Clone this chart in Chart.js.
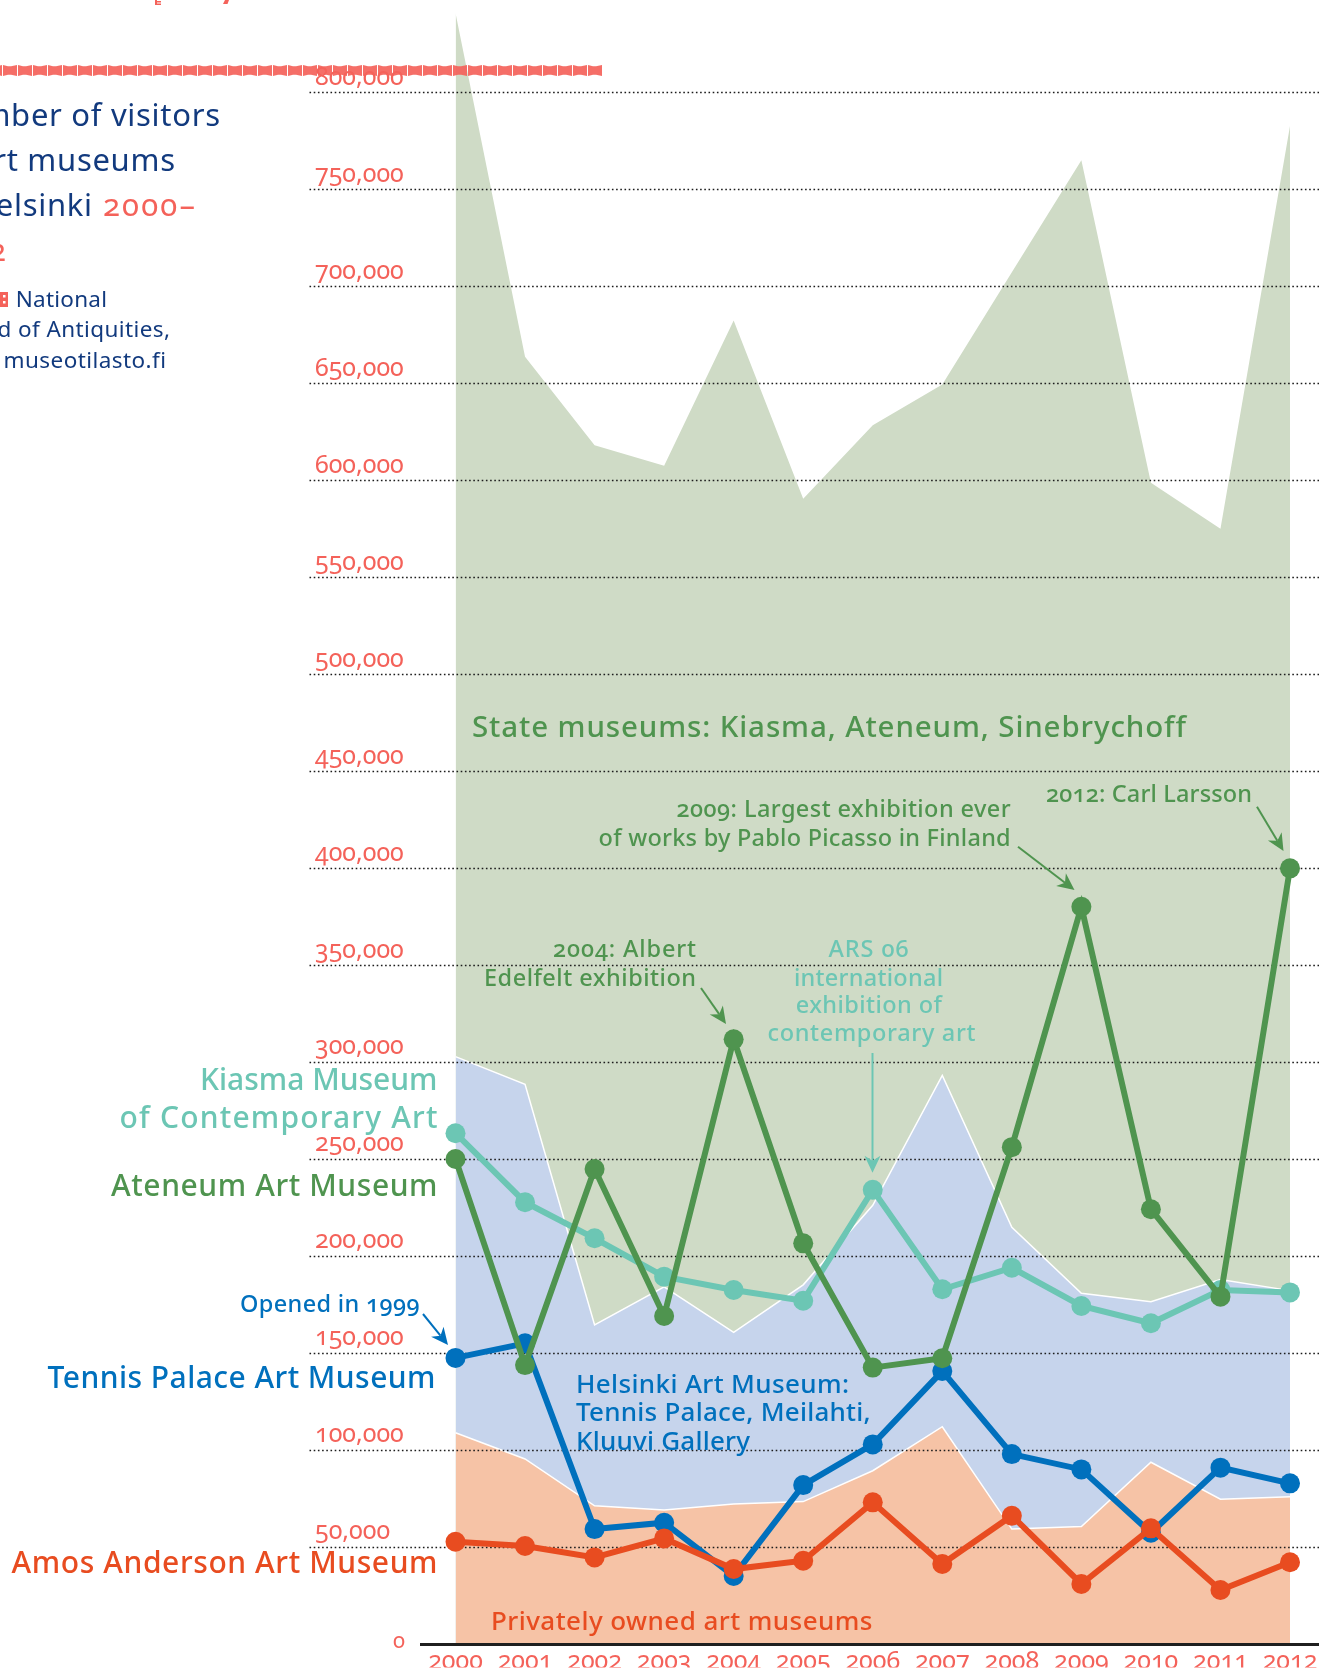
<!DOCTYPE html>
<html><head><meta charset="utf-8">
<style>
html,body{margin:0;padding:0;background:#fff;overflow:hidden;width:1319px;height:1674px}
#wrap{position:absolute;left:0;top:-6px;width:1319px;height:1680px}
canvas{display:block;font-feature-settings:"onum" 1;font-variant-numeric:oldstyle-nums}
</style>
<script src="https://cdn.jsdelivr.net/npm/chart.js@4"></script>
</head><body><div id="wrap"><canvas id="c" width="1319" height="1680"></canvas></div>
<script>
const years=['2000','2001','2002','2003','2004','2005','2006','2007','2008','2009','2010','2011','2012'];
// area boundaries, cumulative visitors
const stateTop=[841000,663700,618000,607500,682400,590400,628400,649400,707200,765000,598700,575000,782700];
const helsinkiTop=[302700,288400,164300,184000,160500,185000,226000,293000,214700,180600,176300,187700,182000];
const privateTop=[108700,95200,71000,68900,72000,73200,89100,111800,59000,60300,93500,74400,75700];
// individual museums
const ateneum=[249900,143600,244700,168900,311600,206400,142300,147100,256000,380000,224000,178900,399800];
const kiasma=[263200,227600,209000,189200,182300,176800,234000,182700,193800,174100,165200,182300,181100];
const tennis=[147300,154800,59000,62300,34800,81700,102700,140500,97700,89800,57100,90700,82600];
const amos=[52500,50300,44400,54200,38400,42700,72800,41000,65900,30700,59400,27600,41900];

const FONT='"Noto Sans"';
const C={tick:'#f4625a',navy:'#123a7e',green:'#4f944f',teal:'#6cc6b4',blue:'#0070bd',orange:'#e84c20',
 fillG:'#cfdbc6',fillB:'#c6d4ec',fillO:'#f6c3a6'};
const OFF=6; // canvas is shifted up by this many pixels

function txt(ctx,t,left,right,base,size,col,weight){ // fit between left and right
  ctx.font=(weight||500)+' '+size+'px '+FONT;ctx.fillStyle=col;ctx.textAlign='left';ctx.textBaseline='alphabetic';
  ctx.letterSpacing='0px';
  const w=ctx.measureText(t).width;
  ctx.letterSpacing=((right-left-w)/Math.max(1,t.length-1)).toFixed(3)+'px';
  ctx.fillText(t,left,base+OFF);ctx.letterSpacing='0px';
}
function txtR(ctx,t,right,base,size,col,ls){ // flush right, may run off the page on the left
  ctx.font='400 '+size+'px '+FONT;ctx.fillStyle=col;ctx.textAlign='left';ctx.textBaseline='alphabetic';
  ctx.letterSpacing=ls+'px';
  const w=ctx.measureText(t).width-ls;
  ctx.fillText(t,right-w,base+OFF);ctx.letterSpacing='0px';
}
function arrow(ctx,x1,y1,x2,y2,col,lw){
  y1+=OFF;y2+=OFF;
  const a=Math.atan2(y2-y1,x2-x1),L=17,W=8;
  const bx=x2-L*Math.cos(a),by=y2-L*Math.sin(a);
  const nx=x2-(L-5)*Math.cos(a),ny=y2-(L-5)*Math.sin(a);
  ctx.strokeStyle=col;ctx.lineWidth=lw;ctx.setLineDash([]);
  ctx.beginPath();ctx.moveTo(x1,y1);ctx.lineTo(nx,ny);ctx.stroke();
  ctx.fillStyle=col;ctx.beginPath();ctx.moveTo(x2,y2);
  ctx.lineTo(bx-W*Math.sin(a),by+W*Math.cos(a));ctx.lineTo(nx,ny);
  ctx.lineTo(bx+W*Math.sin(a),by-W*Math.cos(a));ctx.closePath();ctx.fill();
}

const gridPlugin={id:'grid',beforeDatasetDraw(chart,args){
  if(chart.data.datasets[args.index].label!=='Kiasma')return;
  const y=chart.scales.y,ctx=chart.ctx;ctx.save();
  ctx.strokeStyle='#1c1c1c';ctx.lineWidth=1.5;ctx.setLineDash([1.6,2.6]);
  y.ticks.forEach(t=>{if(t.value>0&&t.value<=800000){const p=Math.round(y.getPixelForValue(t.value))+.5;
    ctx.beginPath();ctx.moveTo(309.5,p);ctx.lineTo(1319,p);ctx.stroke();}});
  ctx.restore();
}};
const decoPlugin={id:'deco',afterDraw(chart){
  const ctx=chart.ctx,y0=chart.scales.y.getPixelForValue(0);ctx.save();
  // base line
  ctx.fillStyle='#1f1f1f';ctx.fillRect(420,y0-.5,899,3);
  // patterned band
  ctx.fillStyle='#f4625a';ctx.globalAlpha=.92;
  for(let x=602-15;x>-15;x-=15){const t=65+OFF,b=76+OFF,m=x+7.5;
    ctx.beginPath();ctx.moveTo(x+1,t);ctx.lineTo(m-1.5,t+1.2);ctx.lineTo(m+1.5,t+1.2);ctx.lineTo(x+15,t);
    ctx.lineTo(x+15,b);ctx.lineTo(m+1.5,b-1.2);ctx.lineTo(m-1.5,b-1.2);ctx.lineTo(x+1,b);ctx.closePath();ctx.fill();}
  ctx.globalAlpha=1;
  // clipped heading remnants
  ctx.fillStyle=C.tick;ctx.fillRect(155,1+OFF,6,1.5);ctx.fillRect(155,3.5+OFF,6,1.5);ctx.fillRect(155,0+OFF,2,5);
  ctx.beginPath();ctx.moveTo(225,0+OFF);ctx.lineTo(229,0+OFF);ctx.lineTo(227.5,4+OFF);ctx.lineTo(223,4+OFF);ctx.closePath();ctx.fill();
  // title
  txtR(ctx,'Number of visitors',220,126,31,C.navy,.7);
  txtR(ctx,'to art museums',175,171,31,C.navy,.7);
  txtR(ctx,'in Helsinki',92,216,31,C.navy,.7);
  txt(ctx,'2000–',103,195,216,31,C.tick,400);
  txtR(ctx,'2012',6,261,31,C.tick,1);
  ctx.fillStyle=C.tick;ctx.fillRect(0,292+OFF,8,15);
  ctx.fillStyle='#fff';ctx.fillRect(3,295+OFF,2.5,2.5);ctx.fillRect(3,301+OFF,2.5,2.5);
  txt(ctx,'National',15.7,107,307,22.5,C.navy,400);
  txtR(ctx,'Board of Antiquities,',170,337,22.5,C.navy,.4);
  txt(ctx,'museotilasto.fi',3.5,166,368,22.5,C.navy,400);
  // series labels
  txt(ctx,'Kiasma Museum',200,437.5,1089.5,30,C.teal);
  txt(ctx,'of Contemporary Art',119.5,437.5,1128,30,C.teal);
  txt(ctx,'Ateneum Art Museum',111,437.5,1195.5,30,C.green);
  txt(ctx,'Tennis Palace Art Museum',47.5,435.5,1387.7,30,C.blue);
  txt(ctx,'Amos Anderson Art Museum',11.5,437.5,1572.7,30,C.orange);
  txt(ctx,'Opened in 1999',240,419.6,1311.5,23.5,C.blue);
  arrow(ctx,423,1314,448,1345,C.blue,2);
  // area labels
  txt(ctx,'State museums: Kiasma, Ateneum, Sinebrychoff',472,1186,736.7,29.5,C.green);
  txt(ctx,'Helsinki Art Museum:',576,849,1392.7,26,C.blue);
  txt(ctx,'Tennis Palace, Meilahti,',576,870.7,1420.7,26,C.blue);
  txt(ctx,'Kluuvi Gallery',576,750,1449.5,26,C.blue);
  txt(ctx,'Privately owned art museums',491,872.5,1629.5,26,C.orange);
  // notes
  txt(ctx,'2009: Largest exhibition ever',676.4,1010.7,816.5,23.5,C.green);
  txt(ctx,'of works by Pablo Picasso in Finland',598.6,1010.7,845.5,23.5,C.green);
  txt(ctx,'2012: Carl Larsson',1046,1252,801.5,23.5,C.green);
  txt(ctx,'2004: Albert',553,696,957,23.5,C.green);
  txt(ctx,'Edelfelt exhibition',484,696,985.5,23.5,C.green);
  txt(ctx,'ARS 06',828.5,908.7,957,23.5,C.teal);
  txt(ctx,'international',794,943,985.5,23.5,C.teal);
  txt(ctx,'exhibition of',795.7,942,1013,23.5,C.teal);
  txt(ctx,'contemporary art',767.5,975.5,1041,23.5,C.teal);
  arrow(ctx,1018,846.7,1074.5,890,C.green,2);
  arrow(ctx,1257,806.7,1283.5,851,C.green,2);
  arrow(ctx,701,988,726,1024,C.green,2);
  arrow(ctx,872.5,1053,872.5,1172.7,C.teal,2);
  // zero label
  txt(ctx,'0',393,404,1648,22,C.tick,400);
  ctx.restore();
}};

function area(label,data,color,order,border){
  return {label,data,backgroundColor:color,borderColor:border||color,borderWidth:border?1.5:0,fill:'origin',
    pointRadius:0,tension:0,order};
}
function line(label,data,color,order){
  return {label,data,borderColor:color,backgroundColor:color,pointBackgroundColor:color,pointBorderWidth:0,
    pointRadius:10,pointHoverRadius:10,borderWidth:6,fill:false,tension:0,clip:false,order};
}
new Chart(document.getElementById('c'),{
  type:'line',
  data:{labels:years,datasets:[
    line('Ateneum',ateneum,C.green,1),
    line('Amos',amos,C.orange,2),
    line('Tennis',tennis,C.blue,3),
    line('Kiasma',kiasma,C.teal,4),
    area('Private',privateTop,C.fillO,5,'#ffffff'),
    area('Helsinki',helsinkiTop,C.fillB,6,'#ffffff'),
    area('State',stateTop,C.fillG,7),
  ]},
  options:{responsive:false,animation:false,events:[],
    layout:{autoPadding:false,padding:{left:315,right:29,top:1.5,bottom:6.5}},
    plugins:{legend:{display:false},title:{display:false},tooltip:{enabled:false}},
    scales:{
      x:{type:'category',offset:false,grid:{display:false,drawTicks:false},border:{display:false},
        afterFit(s){s.height=24;s.paddingLeft=0;s.paddingRight=0;},
        ticks:{autoSkip:false,maxRotation:0,minRotation:0,padding:3,color:C.tick,font:{family:FONT,size:25}}},
      y:{min:0,max:850000,grid:{display:false,drawTicks:false},border:{display:false},
        afterFit(s){s.width=140.5;s.paddingTop=0;s.paddingBottom=0;},
        ticks:{stepSize:50000,crossAlign:'far',labelOffset:-14.5,color:C.tick,font:{family:FONT,size:25},
          callback:v=>(v===0||v>800000)?'':v.toLocaleString('en-US')}}
    }},
  plugins:[gridPlugin,decoPlugin]
});
</script></body></html>
